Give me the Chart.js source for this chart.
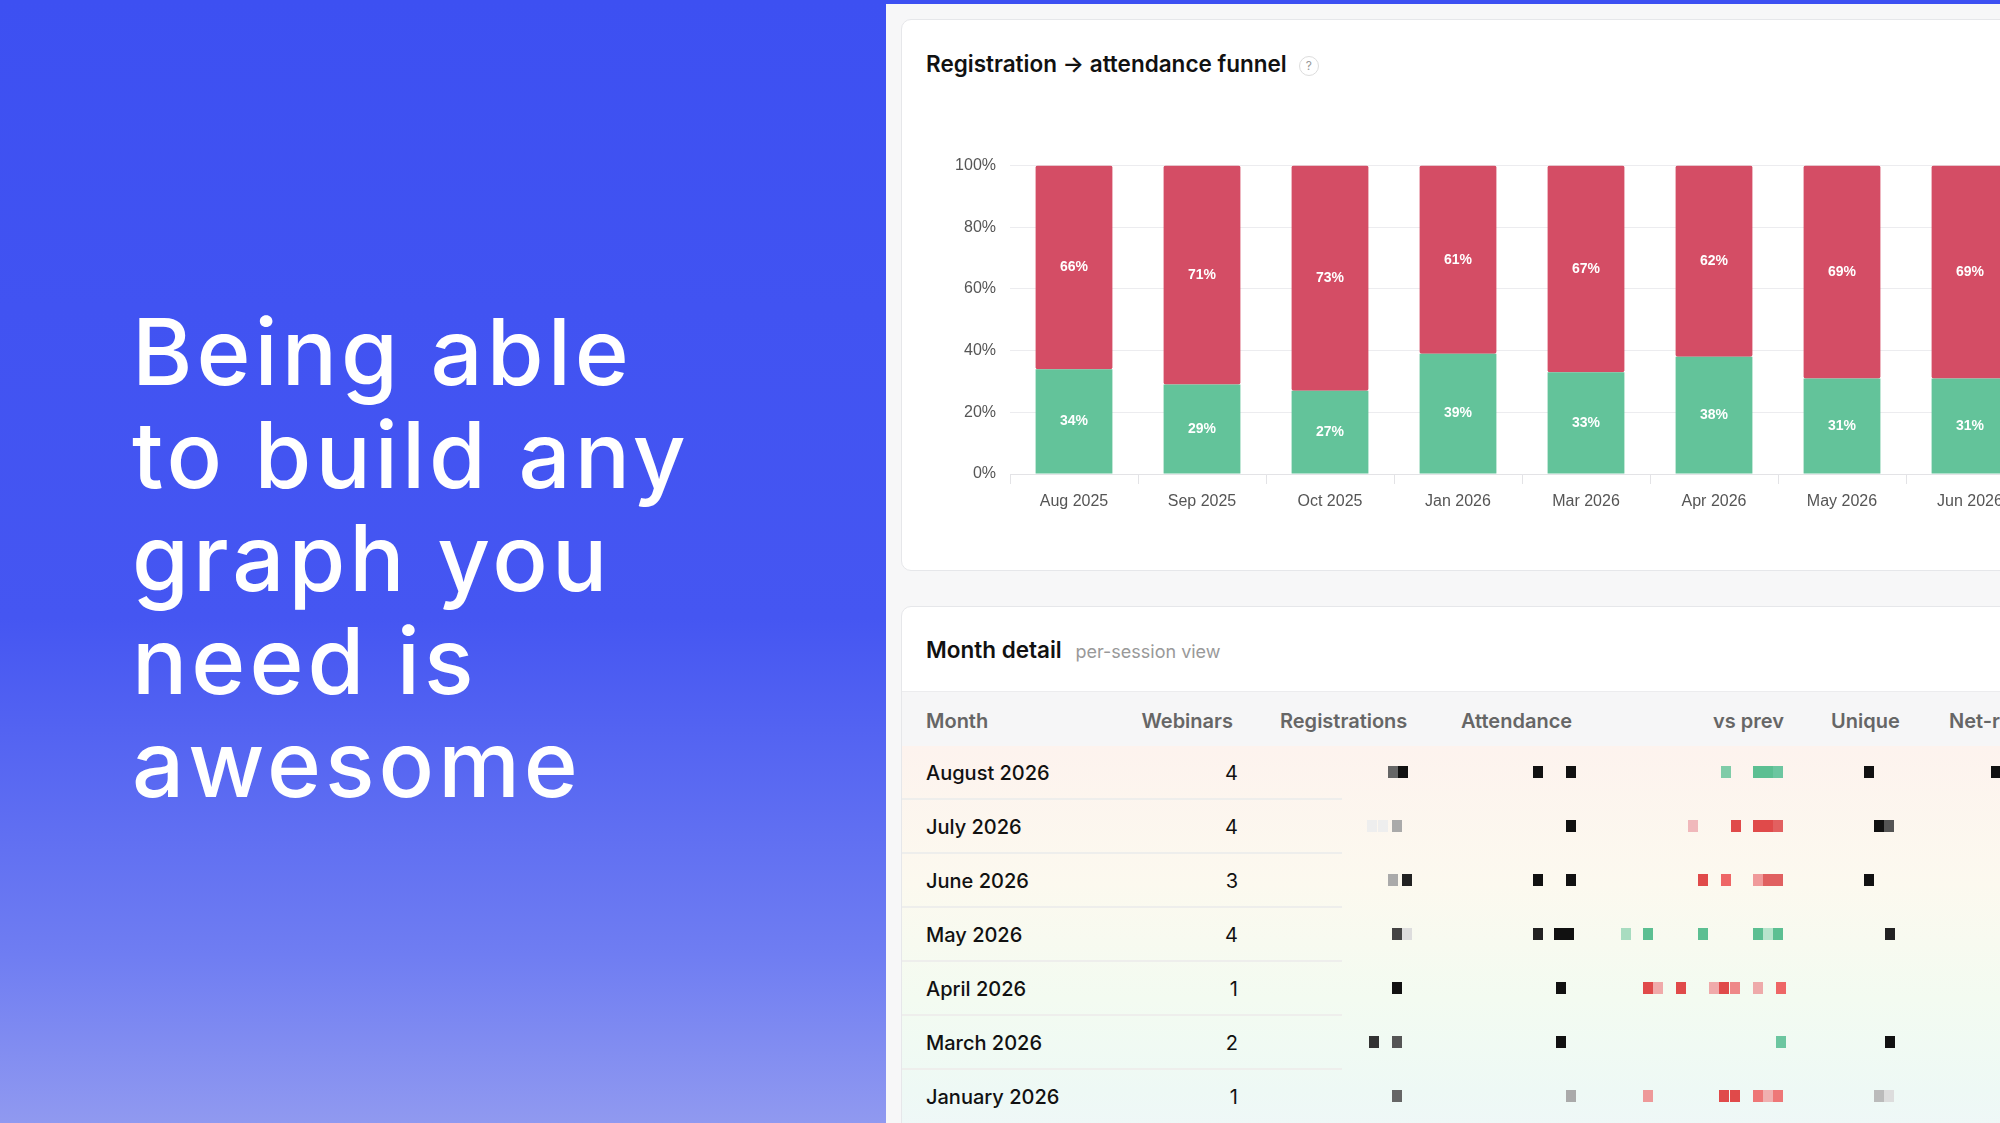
<!DOCTYPE html>
<html><head><meta charset="utf-8">
<script src="https://cdn.jsdelivr.net/npm/chart.js@4/dist/chart.umd.min.js"></script>
<style>
html,body{margin:0;padding:0;width:2000px;height:1123px;overflow:hidden;font-family:Inter,"Noto Sans",sans-serif;background:#f7f7f8}
#left{position:absolute;left:0;top:0;width:886px;height:1123px;background:linear-gradient(180deg,#3d50f2 0%,#4556f2 55%,#6f7df2 85%,#9099f0 100%)}
#left h1{position:absolute;left:132px;top:300px;margin:0;color:#fff;font-weight:500;font-size:92px;line-height:103px;letter-spacing:4px;white-space:nowrap}
#topbar{position:absolute;left:886px;top:0;width:1114px;height:4px;background:#3d50f2}
.card{position:absolute;background:#fff;border:1px solid #e6e7ea;border-radius:10px}
#c1{left:901px;top:19px;width:1200px;height:550px}
#c2{left:901px;top:606px;width:1200px;height:600px;overflow:hidden}
.ttl{position:absolute;font-weight:600;color:#111;font-size:22.5px}
.q{display:inline-block;width:18px;height:18px;border:1px solid #ddd;border-radius:50%;font-size:12px;color:#999;text-align:center;line-height:18px;font-weight:400;margin-left:12px;vertical-align:middle}
#cw{position:absolute;left:925px;top:142px;width:1109px;height:392px}
#hdr{position:absolute;left:0;top:84px;width:1200px;height:54px;background:#f6f6f7;border-top:1px solid #ececee;border-bottom:1px solid #ececee}
.hc{position:absolute;top:17px;font-size:20px;font-weight:600;color:#666}
#rows{position:absolute;left:0;top:139px;width:1200px;height:460px;background:linear-gradient(180deg,#fdf3ee 0%,#fcf9ef 30%,#f3fbf1 55%,#eef9f5 75%,#f1f4fc 100%)}
.row{position:absolute;left:0;width:1200px;height:54px}
.row .m{position:absolute;left:24px;top:15px;font-size:20px;color:#111;font-weight:500}
.row .w{position:absolute;right:864px;top:15px;font-size:20px;color:#111}
.row .ln{position:absolute;left:0;bottom:0;width:440px;height:2px;background:#eeeeec}
.blk{position:absolute;width:10px;height:12px}
</style></head><body>
<div id="left"><h1>Being able<br>to build any<br>graph you<br>need is<br>awesome</h1></div>
<div id="topbar"></div>
<div class="card" id="c1"><div class="ttl" style="left:24px;top:30px">Registration → attendance funnel<span class="q">?</span></div></div>
<div id="cw"><canvas id="ch"></canvas></div>
<div class="card" id="c2">
 <div class="ttl" style="left:24px;top:29px">Month detail <span style="font-size:18px;color:#999;font-weight:400;margin-left:8px">per-session view</span></div>
 <div id="hdr"></div>
 <div id="rows"></div>
</div>
<script>
const categories=["Aug 2025","Sep 2025","Oct 2025","Jan 2026","Mar 2026","Apr 2026","May 2026","Jun 2026"];
const attended=[34,29,27,39,33,38,31,31];
const noShow=[66,71,73,61,67,62,69,69];
const yTicks=[0,20,40,60,80,100];
const months=["August 2026","July 2026","June 2026","May 2026","April 2026","March 2026","January 2026"];
const webinars=[4,4,3,4,1,2,1];
const headers=["Month","Webinars","Registrations","Attendance","vs prev","Unique","Net-r"];

const labelPlugin={id:'lbl',afterDatasetsDraw(c){const x=c.ctx;x.save();x.fillStyle='#fff';x.font='bold 14px "Liberation Sans",Arial,sans-serif';x.textAlign='center';x.textBaseline='middle';
c.data.datasets.forEach((d,di)=>{c.getDatasetMeta(di).data.forEach((b,i)=>{const p=b.getProps(['x','y','base'],true);x.fillText(d.data[i]+'%',p.x,(p.y+p.base)/2);});});x.restore();}};
new Chart(document.getElementById('ch'),{type:'bar',
data:{labels:categories,datasets:[
{label:'Attended',data:attended,backgroundColor:'#63c39a',barPercentage:0.6,categoryPercentage:1,borderRadius:2,borderSkipped:false},
{label:'No-show',data:noShow,backgroundColor:'#d44d65',barPercentage:0.6,categoryPercentage:1,borderRadius:2,borderSkipped:false}]},
options:{responsive:true,maintainAspectRatio:false,animation:false,layout:{padding:{top:4,right:0,left:0,bottom:0}},
plugins:{legend:{display:false},tooltip:{enabled:false}},
scales:{x:{stacked:true,afterFit(s){s.height=60},grid:{offset:true,drawOnChartArea:false,tickLength:10,color:'#e3e3e6'},border:{color:'#e3e3e6'},
ticks:{color:'#555',font:{size:16,family:'"Liberation Sans",Arial'},padding:8}},
y:{stacked:true,min:0,max:100,afterFit(s){s.width=85},afterBuildTicks(s){s.ticks=yTicks.map(v=>({value:v}))},grid:{color:'#ececef',drawTicks:false},border:{display:false},
ticks:{color:'#555',padding:14,font:{size:16,family:'"Liberation Sans",Arial'},callback:v=>v+'%'}}}},
plugins:[labelPlugin]});

const S=1.2755;
const hdrX=[[24,'l'],[331,'r'],[378,'l'],[559,'l'],[882,'r'],[929,'l'],[1047,'l']];
const hdr=document.getElementById('hdr');
headers.forEach((h,i)=>{const d=document.createElement('div');d.className='hc';d.textContent=h;if(hdrX[i][1]==='l')d.style.left=hdrX[i][0]+'px';else d.style.right=(1200-hdrX[i][0])+'px';hdr.appendChild(d);});
const mosaic=[
[[1092,'#666'],[1100,'#111'],[1206,'#111'],[1232,'#111'],[1353,'#7fcca8'],[1378,'#5cbf92'],[1386,'#5cbf92'],[1394,'#6cc6a0'],[1465,'#111'],[1565,'#111']],
[[1076,'#eee'],[1084,'#eee'],[1095,'#aaa'],[1232,'#111'],[1327,'#f0b8bb'],[1361,'#e04a4a'],[1378,'#e04a4a'],[1386,'#e04a4a'],[1394,'#e26060'],[1473,'#111'],[1481,'#555']],
[[1092,'#aaa'],[1103,'#222'],[1206,'#111'],[1232,'#111'],[1335,'#e04a4a'],[1353,'#e66'],[1378,'#f09a9a'],[1386,'#e06060'],[1394,'#e06060'],[1465,'#111']],
[[1095,'#444'],[1103,'#ddd'],[1206,'#222'],[1222,'#111'],[1230,'#111'],[1275,'#a8dcc0'],[1292,'#5cbf92'],[1335,'#5cbf92'],[1378,'#5cbf92'],[1386,'#b8e4cc'],[1394,'#5cbf92'],[1482,'#222']],
[[1095,'#111'],[1224,'#111'],[1292,'#e04a4a'],[1300,'#f0aaaa'],[1318,'#e04a4a'],[1344,'#f0aaaa'],[1352,'#e04a4a'],[1360,'#e88'],[1378,'#eaa'],[1396,'#e66']],
[[1077,'#333'],[1095,'#555'],[1224,'#111'],[1396,'#6cc6a0'],[1482,'#111']],
[[1095,'#666'],[1232,'#aaa'],[1292,'#e99'],[1352,'#e04a4a'],[1360,'#e04a4a'],[1378,'#e77'],[1386,'#f0b0b0'],[1394,'#e77'],[1473,'#bbb'],[1481,'#ddd']]];
const rows=document.getElementById('rows');
months.forEach((m,i)=>{const r=document.createElement('div');r.className='row';r.style.top=(i*54)+'px';
r.innerHTML='<div class="m">'+m+'</div><div class="w">'+webinars[i]+'</div>'+(i<months.length-1?'<div class="ln"></div>':'');
mosaic[i].forEach(([dx,c])=>{const b=document.createElement('div');b.className='blk';b.style.left=(dx*S-901-6)+'px';b.style.top='20px';b.style.background=c;r.appendChild(b);});
rows.appendChild(r);});
</script></body></html>
